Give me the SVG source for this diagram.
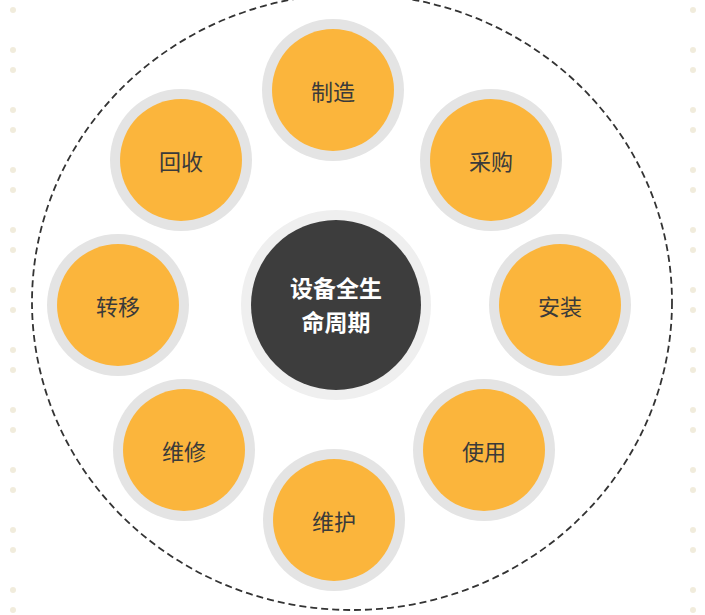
<svg xmlns="http://www.w3.org/2000/svg" width="705" height="615" viewBox="0 0 705 615">
<defs>
<style>
.ring{fill:#e4e4e4}
.node{fill:#fbb53c}
.lbl{font-family:"Noto Sans CJK SC","Liberation Sans",sans-serif;font-size:22px;fill:#3a3a3a;text-anchor:middle;dominant-baseline:central}
.dot{fill:#f1ecdc}
</style>
<pattern id="dots" width="20" height="60" patternUnits="userSpaceOnUse"><circle cx="13" cy="10" r="3" class="dot"/><circle cx="13" cy="50" r="3" class="dot"/></pattern>
</defs>
<rect width="705" height="615" fill="#fff"/>
<rect x="0" y="0" width="22" height="615" fill="url(#dots)"/>
<rect x="680" y="0" width="25" height="615" fill="url(#dots)"/>
<g id="connectors"><ellipse cx="352" cy="302" rx="320" ry="308" fill="none" stroke="#333" stroke-width="1.8" stroke-dasharray="7,4"/></g>
<g id="center"><circle cx="336" cy="305" r="95" fill="#efefef"/><circle cx="336" cy="305" r="85" fill="#3d3d3d"/>
<text x="336" y="287" class="lbl" style="fill:#fff;font-weight:bold;font-size:23px">设备全生</text>
<text x="336" y="321" class="lbl" style="fill:#fff;font-weight:bold;font-size:23px">命周期</text></g>
<g id="n1"><circle cx="333" cy="90" r="71" class="ring"/><circle cx="333" cy="90" r="61" class="node"/><text x="333" y="90" class="lbl">制造</text></g>
<g id="n2"><circle cx="491" cy="160" r="71" class="ring"/><circle cx="491" cy="160" r="61" class="node"/><text x="491" y="160" class="lbl">采购</text></g>
<g id="n3"><circle cx="560" cy="305" r="71" class="ring"/><circle cx="560" cy="305" r="61" class="node"/><text x="560" y="305" class="lbl">安装</text></g>
<g id="n4"><circle cx="484" cy="450" r="71" class="ring"/><circle cx="484" cy="450" r="61" class="node"/><text x="484" y="450" class="lbl">使用</text></g>
<g id="n5"><circle cx="334" cy="520" r="71" class="ring"/><circle cx="334" cy="520" r="61" class="node"/><text x="334" y="520" class="lbl">维护</text></g>
<g id="n6"><circle cx="184" cy="450" r="71" class="ring"/><circle cx="184" cy="450" r="61" class="node"/><text x="184" y="450" class="lbl">维修</text></g>
<g id="n7"><circle cx="118" cy="305" r="71" class="ring"/><circle cx="118" cy="305" r="61" class="node"/><text x="118" y="305" class="lbl">转移</text></g>
<g id="n8"><circle cx="181" cy="160" r="71" class="ring"/><circle cx="181" cy="160" r="61" class="node"/><text x="181" y="160" class="lbl">回收</text></g>
</svg>
